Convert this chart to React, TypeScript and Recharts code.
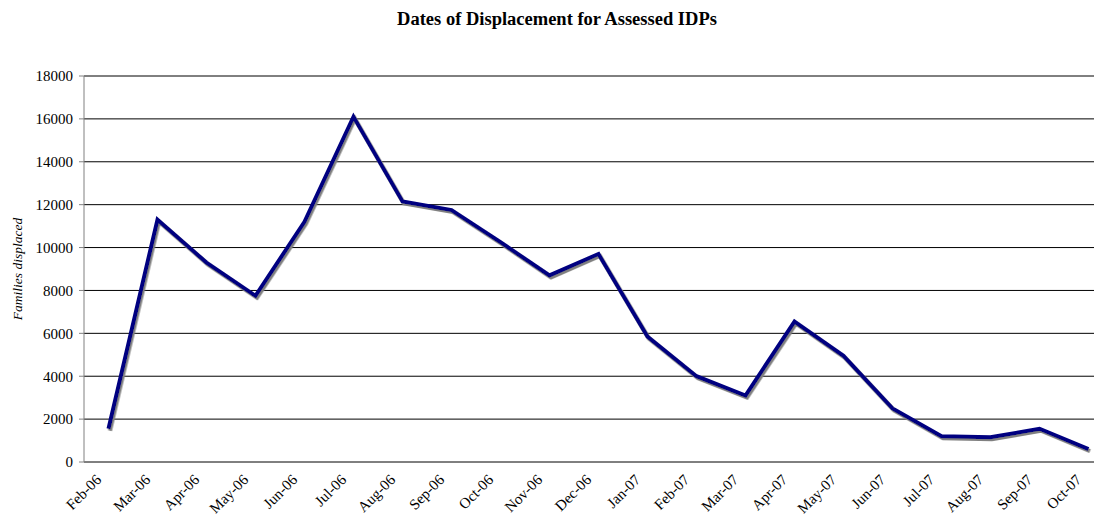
import React from 'react';
import { LineChart, Line, XAxis, YAxis, CartesianGrid } from 'recharts';

const months = [
  'Feb-06', 'Mar-06', 'Apr-06', 'May-06', 'Jun-06', 'Jul-06', 'Aug-06', 'Sep-06', 'Oct-06', 'Nov-06', 'Dec-06',
  'Jan-07', 'Feb-07', 'Mar-07', 'Apr-07', 'May-07', 'Jun-07', 'Jul-07', 'Aug-07', 'Sep-07', 'Oct-07',
];
const familiesDisplaced = [
  1550, 11300, 9300, 7750, 11200, 16100, 12150, 11750, 10250, 8700, 9700,
  5850, 4000, 3100, 6550, 4950, 2500, 1200, 1150, 1550, 600,
];
const yTicks = [0, 2000, 4000, 6000, 8000, 10000, 12000, 14000, 16000, 18000];
const boundaryTicks = [...months.map((_, i) => i), months.length];
const centerTicks = months.map((_, i) => i + 0.5);

const data = months.map((m, i) => ({ pos: i + 0.5, month: m, value: familiesDisplaced[i] }));

const FONT = "'Liberation Serif', 'DejaVu Serif', serif";

const XTick = (props: any) => {
  const { x, y, payload } = props;
  const idx = Math.round(payload.value - 0.5);
  return (
    <g transform={`translate(${x - 10},${y + 15})`}>
      <text
        x={0}
        y={0}
        dy="0.35em"
        textAnchor="end"
        transform="rotate(-45)"
        style={{ fontFamily: FONT }}
        fontSize={15}
        fill="#000"
      >
        {months[idx]}
      </text>
    </g>
  );
};

export default function App() {
  return (
    <div style={{ position: 'relative', width: 1094, height: 510, overflow: 'hidden', background: '#fff' }}>
      <svg width={0} height={0} style={{ position: 'absolute' }}>
        <defs>
          <filter id="lineShadow" x="-5%" y="-5%" width="110%" height="110%">
            <feDropShadow dx={1.5} dy={2} stdDeviation={0.4} floodColor="#808080" floodOpacity={1} />
          </filter>
        </defs>
      </svg>
      <style>{`.recharts-line-curve { filter: url(#lineShadow); } .ytk text { font-family: ${FONT}; }`}</style>
      <div
        style={{
          position: 'absolute',
          left: 249,
          top: 0,
          width: 600,
          textAlign: 'center',
          fontFamily: FONT,
          fontWeight: 'bold',
          fontSize: 18.5,
          lineHeight: '23px',
          color: '#000',
        }}
      >
        Dates of Displacement for Assessed IDPs
      </div>
      <div
        style={{
          position: 'absolute',
          left: 9.5 - 100,
          top: 260.5 - 8,
          width: 200,
          height: 16,
          lineHeight: '16px',
          textAlign: 'center',
          transform: 'rotate(-90deg)',
          fontFamily: FONT,
          fontStyle: 'italic',
          fontSize: 13.5,
          color: '#000',
          zIndex: 2,
        }}
      >
        Families displaced
      </div>
      <LineChart width={1105} height={510} data={data} margin={{ top: 68, right: 0, bottom: 0, left: 0 }}>
        <CartesianGrid vertical={false} stroke="#000" strokeWidth={1} />
        <XAxis
          xAxisId="bounds"
          dataKey="pos"
          type="number"
          domain={[0, months.length]}
          ticks={boundaryTicks}
          interval={0}
          height={0}
          tick={false}
          tickSize={5}
          tickLine={{ stroke: '#808080' }}
          axisLine={{ stroke: '#808080' }}
        />
        <XAxis
          xAxisId="labels"
          dataKey="pos"
          type="number"
          domain={[0, months.length]}
          ticks={centerTicks}
          interval={0}
          height={56}
          tickSize={0}
          tickMargin={0}
          tickLine={false}
          axisLine={false}
          tick={<XTick />}
        />
        <YAxis
          className="ytk"
          type="number"
          domain={[0, 18000]}
          ticks={yTicks}
          interval={0}
          width={76}
          tickSize={5}
          tickMargin={6}
          tickLine={{ stroke: '#808080' }}
          axisLine={{ stroke: '#808080' }}
          tick={{ fontFamily: FONT, fontSize: 15, fill: '#000' }}
        />
        <Line
          xAxisId="labels"
          type="linear"
          dataKey="value"
          stroke="#000080"
          strokeWidth={4}
          dot={false}
          activeDot={false}
          isAnimationActive={false}
        />
      </LineChart>
    </div>
  );
}
